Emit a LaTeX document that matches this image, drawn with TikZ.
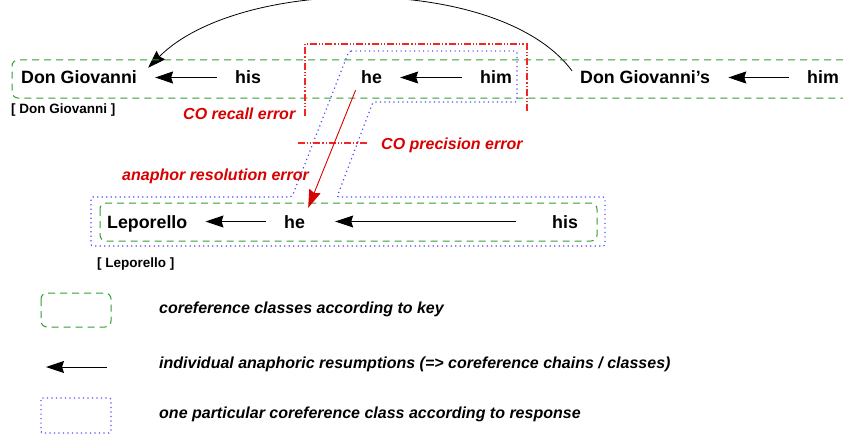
\documentclass[tikz,border=0pt]{standalone}
\usepackage{fontspec}
\setmainfont{Liberation Sans}
\usepackage{tikz}
\usetikzlibrary{arrows.meta}

\definecolor{keygreen}{rgb}{0.2,0.62,0.2}
\definecolor{respblue}{rgb}{0.3,0.3,1}
\definecolor{errred}{rgb}{0.85,0,0}
\definecolor{linered}{rgb}{0.95,0.15,0.15}

\begin{document}
\begin{tikzpicture}
		[x=1pt,y=1pt,
		font=\fontsize{17.8}{20}\selectfont\bfseries,
		>={Stealth[length=18pt,width=12pt,inset=2pt]}
		]
		\useasboundingbox(0,0)rectangle(843,-436);
		
		% Words, boxes and labels
		\tikzstyle{word}=[anchor=base west,inner sep=0,text height=13pt,text depth=0pt];
		\tikzstyle{resumption}=[->,line width=1pt,shorten >=18pt,shorten <=18pt];
		\tikzstyle{key box}=[draw=keygreen,line width=1pt,dash pattern=on 7pt off 5pt,rounded corners=6pt];
		\tikzstyle{response box}=[draw=respblue,line width=1.2pt,dash pattern=on 1.2pt off 3.3pt,rounded corners=2pt];
		\tikzstyle{dashdot box}=[draw=linered,line width=1.1pt,dash pattern=on 7pt off 2pt on 1.2pt off 2pt on 1.2pt off 2pt];
		\tikzstyle{error label}=[anchor=base west,inner sep=0,text=errred,font=\fontsize{16}{18}\selectfont\bfseries\itshape];
		\tikzstyle{ref label}=[anchor=base west,inner sep=0,font=\fontsize{13.5}{15}\selectfont\bfseries];
		\tikzstyle{legend}=[anchor=base west,inner sep=0,font=\fontsize{16}{18}\selectfont\bfseries\itshape];
		
		% Key chain of Don Giovanni
		\node[word](dg) at (21,-84){Don Giovanni};
		\node[word](his1) at (235,-84){his};
		\node[word](he1) at (361,-84){he};
		\node[word](him1) at (480,-84){him};
		\node[word](dgs) at (580,-84){Don Giovanni’s};
		\node[word](him2) at (807,-84){him};
		% Key chain of Leporello
		\node[word](lep) at (107,-228){Leporello};
		\node[word](he2) at (284,-228){he};
		\node[word](his2) at (552,-228){his};
		
		% Anaphoric resumptions
		\draw[resumption](his1)--(dg);
		\draw[resumption](him1)--(he1);
		\draw[resumption](him2)--(dgs);
		\draw[resumption](he2)--(lep);
		\draw[resumption,shorten >=30pt,shorten <=36pt](his2)--(he2);
		\draw[->,line width=0.8pt]([xshift=-8pt]dgs.north west)..controls(500,26)and(240,24)..([xshift=11pt,yshift=3pt]dg.north east);
		
		% Coreference classes according to key
		\draw[key box](843,-60)--(12,-60)--(12,-98)--(843,-98);
		\draw[key box](100,-203)rectangle(597,-241);
		\node[ref label](dgref) at (11,-113){[ Don Giovanni ]};
		\node[ref label](lepref) at (97,-267){[ Leporello ]};
		
		% One class according to response
		\draw[response box](349,-51)--(517,-51)--(517,-102)--(373,-102)--(337,-197)--(605,-197)--(605,-246)--(91,-246)--(91,-197)--(292,-197)--cycle;
		
		% Errors
		\draw[dashdot box](305,-116)--(305,-44)--(527,-44)--(527,-112);
		\draw[dashdot box](298,-143)--(368,-143);
		\draw[->,errred,line width=0.9pt]([shift={(-16pt,-6pt)}]he1.south)--([shift={(3pt,7pt)}]he2.north east);
		\node[error label](recall) at (183,-119){CO recall error};
		\node[error label](precision) at (381,-149){CO precision error};
		\node[error label](resolution) at (122,-180){anaphor resolution error};
		
		% Legend
		\draw[key box](41,-293)rectangle(111,-327);
		\coordinate(legtail) at (107,-367);
		\coordinate(legtip) at (46,-367);
		\draw[->,line width=1pt](legtail)--(legtip);
		\draw[response box](41,-398)rectangle(111,-433);
		\node[legend](keytext) at (159,-313){coreference classes according to key};
		\node[legend](resumtext) at (159,-368){individual anaphoric resumptions (=> coreference chains / classes)};
		\node[legend](resptext) at (159,-418){one particular coreference class according to response};
\end{tikzpicture}
\end{document}
